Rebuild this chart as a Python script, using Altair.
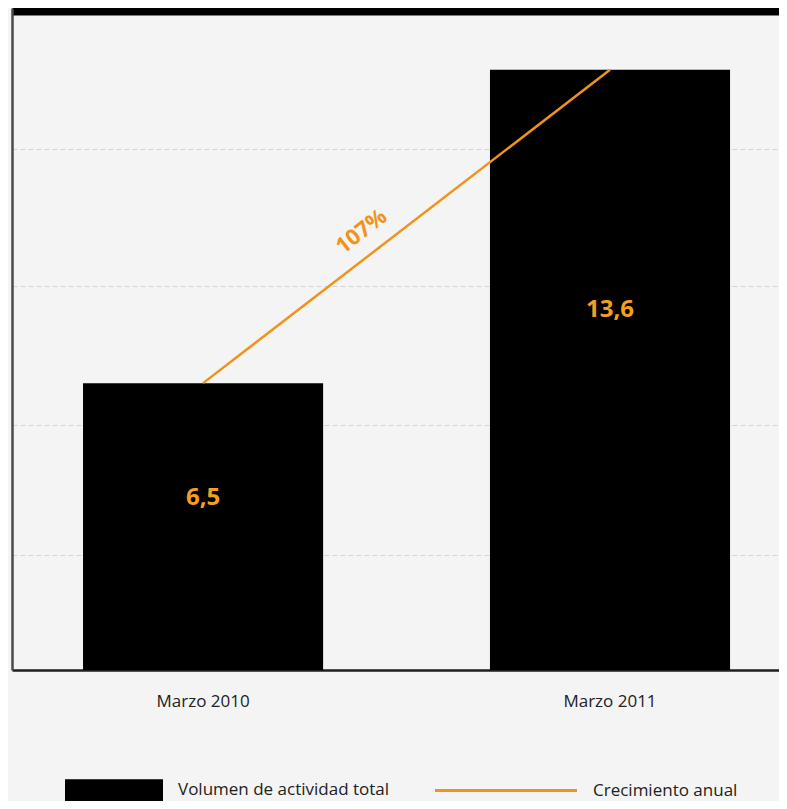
import altair as alt
import pandas as pd

# ---- data ----
categorias = ["Marzo 2010", "Marzo 2011"]
valores = [6.5, 13.6]
etiquetas = ["6,5", "13,6"]
serie_barras = "Volumen de actividad total"
serie_linea = "Crecimiento anual"
crecimiento = ["107%"]
grid_vals = [2.6, 5.55, 8.7, 11.8]

df = pd.DataFrame({"periodo": categorias, "valor": valores, "etiqueta": etiquetas})
df_pct = pd.DataFrame({"periodo": [categorias[0]], "valor": [valores[0]], "texto": crecimiento})

# ---- styles ----
ORANGE = "#f0931c"
LABEL_ORANGE = "#f2a11f"
BG = "#f4f4f4"
FONT = "Open Sans"
W, H = 767, 662

x_scale = alt.Scale(domain=categorias, paddingInner=0.41, paddingOuter=0.1474, align=0.592)
y_scale = alt.Scale(domain=[0, 15], nice=False, zero=True)

y_axis = alt.Axis(values=grid_vals, labels=False, ticks=False, title=None,
                  domainColor="#4a4a4a", domainWidth=2.5, grid=True,
                  gridColor="#d4d4d4", gridDash=[5, 3], gridWidth=1)
x_axis_bottom = alt.Axis(title=None, ticks=False, labelPadding=23, labelFont=FONT,
                         labelFontSize=17, labelColor="#222222", labelAngle=0,
                         domainColor="#1e1e1e", domainWidth=2.5, grid=False)
x_axis_top = alt.Axis(orient="top", title=None, ticks=False, labels=False,
                      domainColor="#000000", domainWidth=14, grid=False)

base = alt.Chart(df)

bars = base.mark_bar().transform_calculate(
    serie=f"'{serie_barras}'"
).encode(
    x=alt.X("periodo:N", scale=x_scale, axis=x_axis_bottom),
    y=alt.Y("valor:Q", scale=y_scale, axis=y_axis),
    fill=alt.Fill("serie:N",
                  scale=alt.Scale(domain=[serie_barras], range=["#000000"]),
                  legend=alt.Legend(title=None, orient="none", legendX=53, legendY=733,
                                    symbolType="M-1,-0.22H1V0.4H-1Z", symbolSize=9604,
                                    symbolStrokeWidth=0, labelFont=FONT, labelFontSize=17,
                                    labelColor="#222222", labelOffset=15, labelLimit=400)),
)

line = base.mark_line(strokeWidth=2.5).transform_calculate(
    serie=f"'{serie_linea}'"
).encode(
    x=alt.X("periodo:N", scale=x_scale, axis=None),
    y=alt.Y("valor:Q", scale=y_scale, axis=y_axis),
    stroke=alt.Stroke("serie:N",
                      scale=alt.Scale(domain=[serie_linea], range=[ORANGE]),
                      legend=alt.Legend(title=None, orient="none", legendX=421.5, legendY=710,
                                        symbolType="stroke", symbolSize=20164,
                                        symbolStrokeWidth=3, labelFont=FONT, labelFontSize=17,
                                        labelColor="#222222", labelOffset=14.5, labelLimit=400)),
)

value_labels = base.mark_text(font=FONT, fontWeight="bold", fontSize=24,
                              color=LABEL_ORANGE, baseline="middle").transform_calculate(
    pos="datum.valor * 0.6"
).encode(
    x=alt.X("periodo:N", scale=x_scale, axis=x_axis_top),
    y=alt.Y("pos:Q", scale=y_scale, axis=y_axis),
    text="etiqueta:N",
)

pct_label = alt.Chart(df_pct).mark_text(angle=322, dx=218, dy=-22, font=FONT,
                                        fontWeight="bold", fontSize=22, color=ORANGE,
                                        align="center", baseline="middle").encode(
    x=alt.X("periodo:N", scale=x_scale, axis=None),
    y=alt.Y("valor:Q", scale=y_scale, axis=y_axis),
    text="texto:N",
)

chart = alt.layer(bars, line, value_labels, pct_label).resolve_axis(
    x="independent"
).properties(
    width=W, height=H,
    padding={"left": 4, "top": 0, "right": 0, "bottom": 131},
    autosize=alt.AutoSizeParams(type="none"),
    background=BG,
).configure_view(stroke=None)

chart.save("out.html", embed_options={"renderer": "svg", "actions": False})
